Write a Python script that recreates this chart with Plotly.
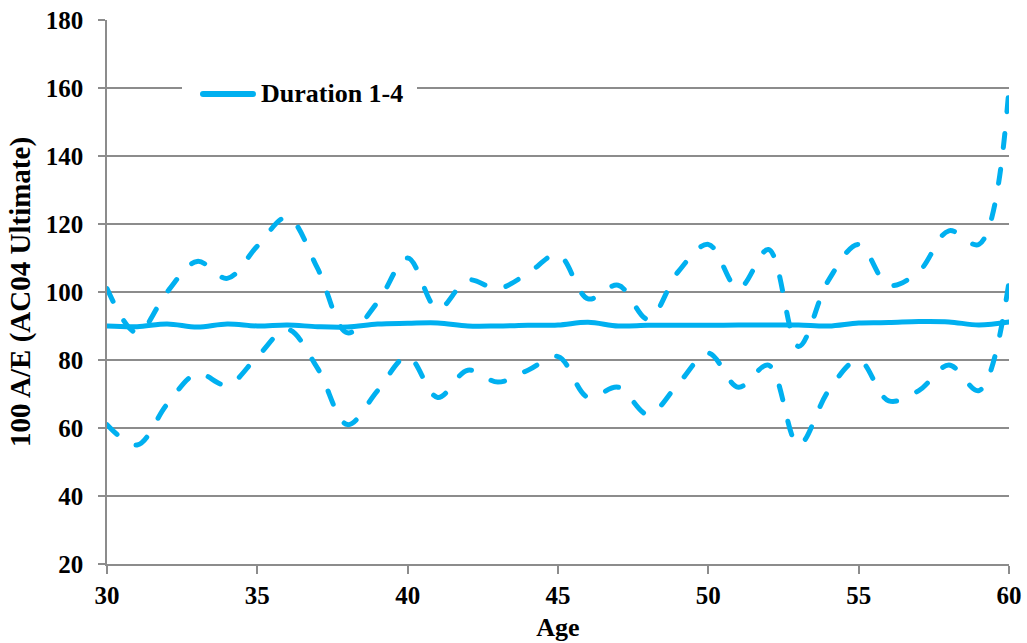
import plotly.graph_objects as go

# Age on the x axis
ages = [30, 31, 32, 33, 34, 35, 36, 37, 38, 39, 40, 41, 42, 43, 44, 45,
        46, 47, 48, 49, 50, 51, 52, 53, 54, 55, 56, 57, 58, 59, 60]

# 100 A/E, duration 1-4, with upper and lower bounds
central = [90, 89.8, 90.6, 89.7, 90.6, 90, 90.3, 89.8, 89.7, 90.6, 90.8,
           90.9, 90, 90, 90.2, 90.3, 91.1, 90, 90.2, 90.2, 90.2, 90.3,
           90.3, 90.3, 90, 90.9, 91, 91.3, 91.2, 90.3, 91.2]
upper = [101, 88, 100, 109, 104, 113.5, 122, 107, 88, 97, 110, 95, 103.5,
         101, 105.5, 111, 98, 102, 92, 106, 114, 101, 112.5, 84, 103.5,
         114, 102, 106, 118, 114, 160]
lower = [61, 55, 67, 76, 72.6, 81, 89, 77.6, 61, 71, 81, 69, 77, 73.5, 77,
         81, 69, 72, 64, 73, 82, 72, 78.5, 55, 71, 80, 68, 71, 78.5, 71, 103]

series_name = "Duration 1-4"
x_ticks = [30, 35, 40, 45, 50, 55, 60]
y_ticks = [20, 40, 60, 80, 100, 120, 140, 160, 180]

BLUE = "#00B0F0"
GRID = "#8C8C8C"
FONT = "'Liberation Serif', 'Times New Roman', Times, serif"

fig = go.Figure()
for vals, dash in ((upper, "14px,22px"), (lower, "14px,22px"), (central, "solid")):
    fig.add_trace(go.Scatter(
        x=ages, y=vals, mode="lines", name=series_name,
        line=dict(color=BLUE, width=5, dash=dash, shape="spline", smoothing=1.0),
        showlegend=False, hoverinfo="skip",
    ))

W, H = 1027, 643
L, R, T, B = 107, 18, 20, 79
pw, ph = W - L - R, H - T - B


def px(x):
    return (x - L) / pw


def py(y):
    return (H - B - y) / ph


# legend: white panel, line sample and label
shapes = [
    dict(type="rect", xref="paper", yref="paper", layer="above",
         x0=px(182), x1=px(417), y0=py(108), y1=py(78),
         fillcolor="white", line=dict(width=0)),
    dict(type="line", xref="paper", yref="paper", layer="above",
         x0=px(203), x1=px(253), y0=py(94), y1=py(94),
         line=dict(color=BLUE, width=6)),
]
annotations = [
    dict(text="<b>" + series_name + "</b>", xref="paper", yref="paper",
         x=px(259), y=py(94), xanchor="left", yanchor="middle", showarrow=False,
         font=dict(family=FONT, size=26, color="black")),
]

fig.update_layout(
    width=W, height=H,
    margin=dict(l=L, r=R, t=T, b=B, autoexpand=False),
    paper_bgcolor="white", plot_bgcolor="white",
    showlegend=False,
    font=dict(family=FONT, color="black"),
    shapes=shapes, annotations=annotations,
    xaxis=dict(
        range=[30, 60], tickvals=x_ticks, ticktext=["<b>%d</b>" % v for v in x_ticks],
        showgrid=False, showline=True, linecolor=GRID, linewidth=1.5,
        ticks="outside", ticklen=8, tickcolor=GRID, tickwidth=1.5,
        tickfont=dict(family=FONT, size=25, color="black"),
        title=dict(text="<b>Age</b>", font=dict(family=FONT, size=26, color="black"),
                   standoff=10),
        zeroline=False, automargin=False,
    ),
    yaxis=dict(
        range=[20, 180], tickvals=y_ticks, ticktext=["<b>%d</b>" % v for v in y_ticks],
        showgrid=True, gridcolor=GRID, gridwidth=1.5,
        showline=True, linecolor=GRID, linewidth=1.5,
        ticks="outside", ticklen=7, tickcolor=GRID, tickwidth=1.5,
        tickfont=dict(family=FONT, size=25, color="black"),
        ticklabelstandoff=10,
        title=dict(text="<b>100 A/E (AC04 Ultimate)</b>",
                   font=dict(family=FONT, size=29, color="black"), standoff=7),
        zeroline=False, automargin=False,
    ),
)

# round ends on the line strokes
post = """
document.querySelectorAll('path.js-line').forEach(function(p){
  p.style.strokeLinecap='round'; p.style.strokeLinejoin='round';
});
document.querySelectorAll('.shapelayer path').forEach(function(p){
  p.style.strokeLinecap='round';
});
"""
fig.write_html("out.html", post_script=post)
